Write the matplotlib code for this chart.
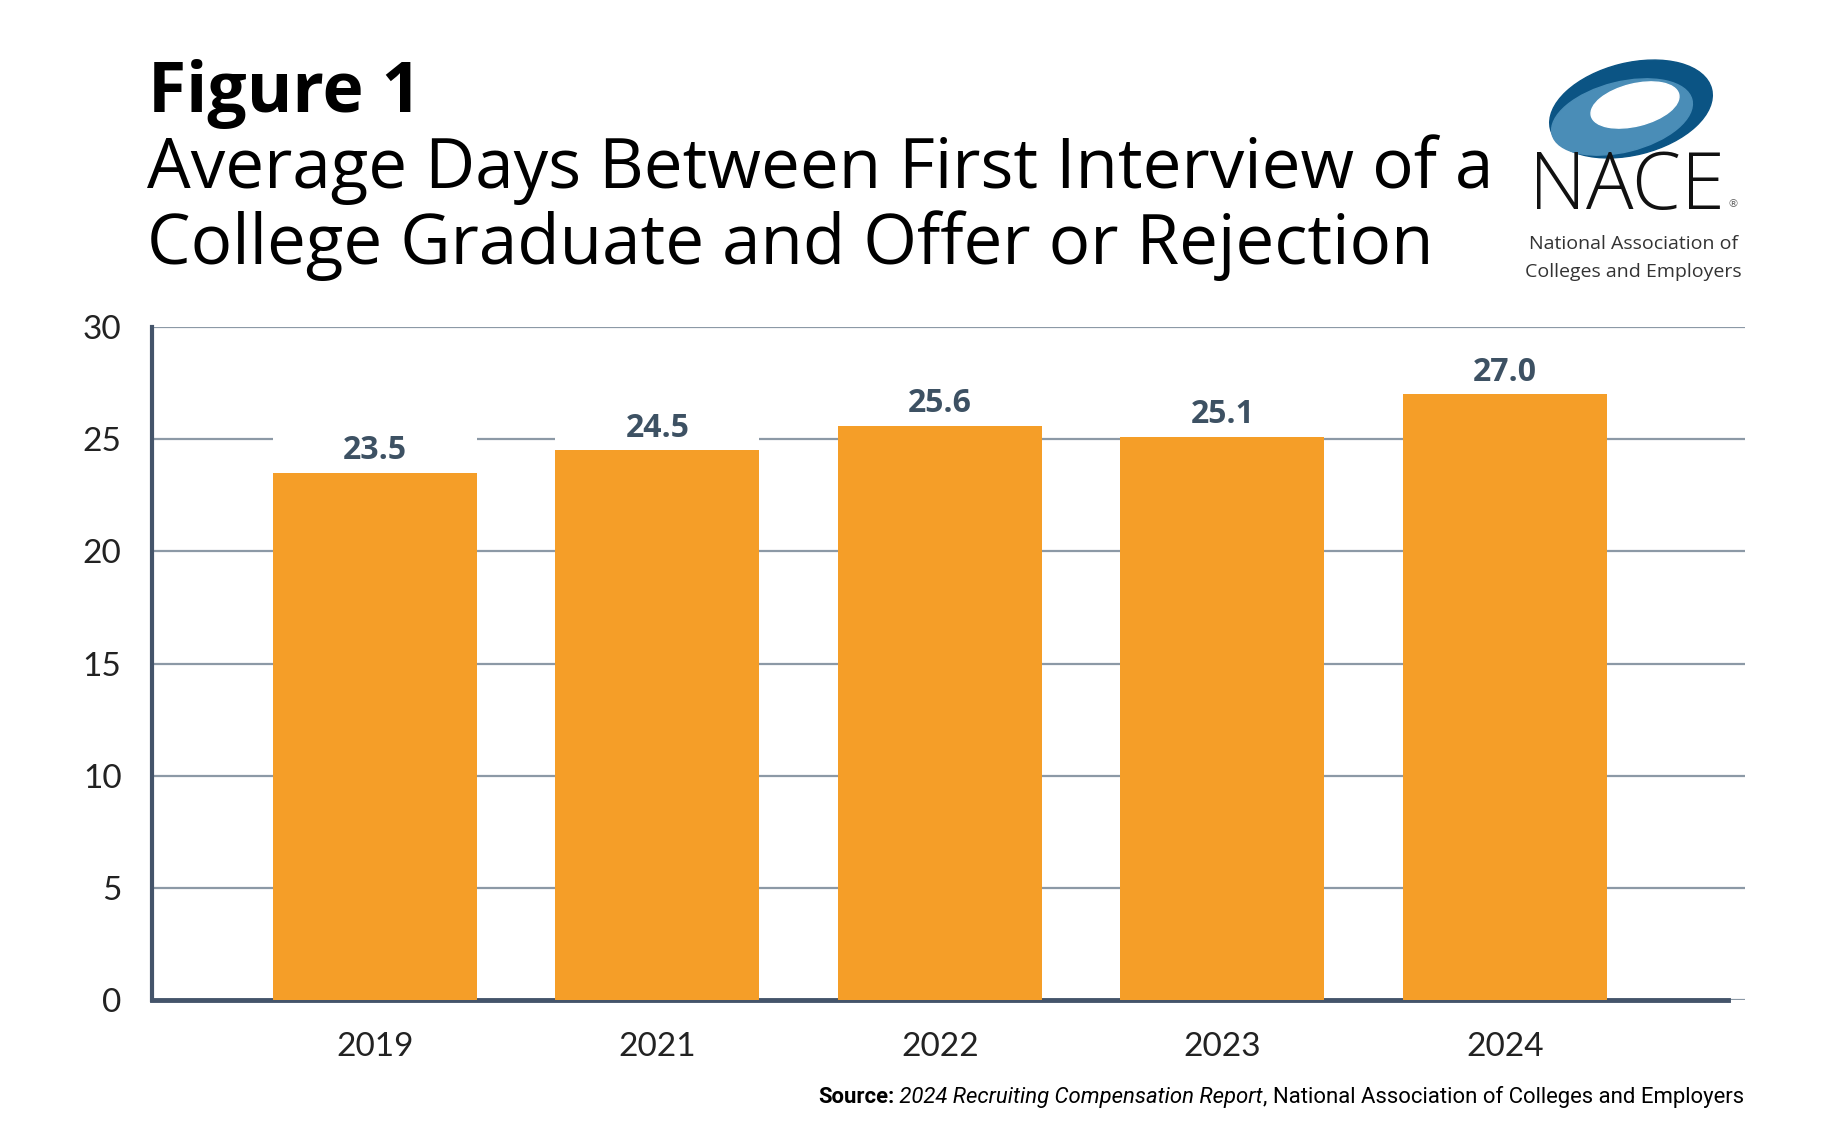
import matplotlib
matplotlib.use("Agg")
import matplotlib.pyplot as plt
from matplotlib.patches import Ellipse

years = ["2019", "2021", "2022", "2023", "2024"]
days = [23.5, 24.5, 25.6, 25.1, 27.0]
yticks = [0, 5, 10, 15, 20, 25, 30]

orange = "#F59E28"
slate = "#3D5163"
gridc = "#8C99A6"

fig = plt.figure(figsize=(18.26, 11.33), dpi=100)
ax = fig.add_axes([152/1826, 1 - 1000/1133, (1745 - 152)/1826, (1000 - 327)/1133])

x = list(range(len(years)))
ax.bar(x, days, width=0.722, color=orange, zorder=3)
# white boxes behind the value labels hide the gridlines there
ax.bar(x, [2.6] * len(days), bottom=days, width=0.722, color="white", zorder=2)
for xi, v in zip(x, days):
    ax.text(xi, v + 0.25, f"{v:.1f}", ha="center", va="bottom", fontsize=23,
            fontweight="bold", color=slate, family="Open Sans", zorder=4)

ax.set_xlim(-0.789, 4.85)
ax.set_ylim(0, 30)
ax.set_yticks(yticks)
ax.set_xticks(x)
ax.set_xticklabels(years)
ax.yaxis.grid(True, color=gridc, linewidth=1.6, zorder=1)
ax.set_axisbelow(True)
ax.tick_params(axis="both", length=0, labelsize=24, labelcolor="#222222")
ax.tick_params(axis="x", pad=23)
ax.tick_params(axis="y", pad=22)
for lab in ax.get_xticklabels() + ax.get_yticklabels():
    lab.set_family("Lato")
for s in ["top", "right"]:
    ax.spines[s].set_visible(False)
ax.spines["left"].set_color("#44546A")
ax.spines["left"].set_linewidth(3)
ax.spines["bottom"].set_color("#44546A")
ax.spines["bottom"].set_linewidth(3.5)
ax.spines["bottom"].set_bounds(-0.789, 4.79)

# titles
fig.text(148/1826, 1 - 112/1133, "Figure 1", fontsize=50, fontweight="bold",
         family="Open Sans", color="black", va="baseline")
fig.text(147/1826, 1 - 188/1133, "Average Days Between First Interview of a",
         fontsize=49.8, family="Open Sans", color="black", va="baseline")
fig.text(147/1826, 1 - 264/1133, "College Graduate and Offer or Rejection",
         fontsize=49.8, family="Open Sans", color="black", va="baseline")

# logo
la = fig.add_axes([1511/1826, 1 - 290/1133, 240/1826, 250/1133])
la.set_xlim(0, 240)
la.set_ylim(250, 0)
la.axis("off")
la.add_patch(Ellipse((120, 69), 166, 92, angle=-14, color="#0B5484"))
la.add_patch(Ellipse((111, 77), 144, 70, angle=-14, color="#4A8DB7"))
la.add_patch(Ellipse((124, 65), 90, 42, angle=-14, color="white"))
la.text(116, 169, "NACE", ha="center", va="baseline", fontsize=57,
        family="Open Sans", fontweight="light", color="#111111")
la.text(222, 167, "®", ha="center", va="baseline", fontsize=8, color="#666666")
la.text(122, 209, "National Association of", ha="center", va="baseline",
        fontsize=14, family="Open Sans", color="#333333")
la.text(122, 237, "Colleges and Employers", ha="center", va="baseline",
        fontsize=14, family="Open Sans", color="#333333")

# source, drawn in three pieces, right edge at ~1744 px
pieces = [("Source:", "bold", "normal"),
          (" 2024 Recruiting Compensation Report", "normal", "italic"),
          (", National Association of Colleges and Employers", "normal", "normal")]
fig.canvas.draw()
r = fig.canvas.get_renderer()
texts = []
xs = 0
for txt, wt, st in pieces:
    t = fig.text(xs/1826, 1 - 1097/1133, txt, ha="left", va="center", fontsize=15.9,
                 family="Roboto", fontweight=wt, fontstyle=st, color="black")
    xs = t.get_window_extent(r).x1
    texts.append(t)
shift = 1744 - xs
for t in texts:
    px, py = t.get_position()
    t.set_position((px + shift/1826, py))

fig.savefig("out.png", dpi=100, facecolor="white")
